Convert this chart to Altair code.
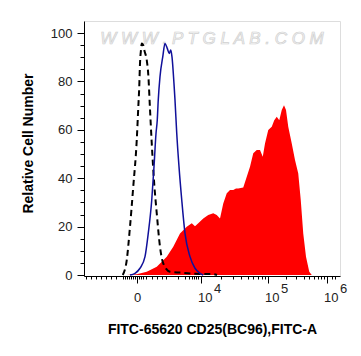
import altair as alt
import pandas as pd

# x values are display channels of a biexponential axis (0..1024)
ctrl_x = [155, 171, 184, 197, 211, 217, 221, 224, 228, 231, 237, 241, 251, 257, 264,
          271, 280, 291, 304, 317, 344, 384, 444, 516, 532]
ctrl_y = [0, 6.2, 20, 36.5, 55.8, 69, 77.8, 87.5, 93, 95.7, 95, 93, 88.8, 83, 68.5,
          54.4, 39, 25.5, 11.7, 4.8, 1.4, 1.0, 0.5, 0.4, 0]

blue_x = [184, 204, 224, 244, 257, 271, 280, 288, 293, 297, 304, 315, 324, 333, 341,
          347, 352, 360, 364, 371, 380, 391, 404, 424, 444, 464, 477]
blue_y = [0, 0.7, 2.8, 7.6, 17.2, 31, 44.8, 58.5, 64, 72.3, 82, 90.2, 95.7, 93.7, 91.6,
          93, 90.2, 79, 72.3, 58.5, 44.8, 31, 17.2, 7.6, 2.8, 0.7, 0]

red_x = [171, 211, 251, 291, 331, 357, 384, 411, 431, 444, 457, 477, 497, 517, 531,
         544, 557, 571, 584, 597, 608, 617, 637, 651, 664, 677, 691, 704, 715, 724,
         737, 751, 761, 771, 781, 791, 800, 808, 817, 831, 844, 857, 867, 877, 888,
         901, 911]
red_y = [0, 0.3, 1.4, 3.4, 7.6, 11.7, 17.2, 20, 21.4, 20.2, 21.4, 23.4, 24.8, 25.5, 24.8,
         23.4, 29.6, 33.8, 35.1, 35.1, 35.8, 35.8, 36.2, 40.6, 44.8, 50.3, 51.7, 51.7, 48.9, 54.4,
         59.9, 61.3, 64, 65.4, 64, 68.2, 70.2, 68.2, 61.3, 54.4, 47.5, 42, 31, 17.2, 7.6,
         1.4, 0]

x_major = [212, 468, 736, 972]
x_base = ["0", "10", "10", "10"]
x_sup = ["", "4", "5", "6"]
x_minor = [8, 28, 48, 68, 88, 108, 128, 156, 164, 172, 180, 188, 196, 204, 220, 228, 236,
           248, 272, 292, 312, 328, 376, 404, 420, 432, 440, 448, 456,
           549, 596, 629, 655, 676, 694, 710, 724,
           807, 849, 878, 901, 920, 936, 949, 961, 992, 1004]
y_major = [0, 20, 40, 60, 80, 100]
y_minor = [5, 10, 15, 25, 30, 35, 45, 50, 55, 65, 70, 75, 85, 90, 95]

W, H = 256, 255
FONT = "Liberation Sans"
xs = alt.Scale(domain=[0, 1024], nice=False, zero=False)
ys = alt.Scale(domain=[-0.4, 105], nice=False, zero=False)

red = pd.DataFrame({"x": red_x, "y": red_y})
ctrl = pd.DataFrame({"x": ctrl_x, "y": ctrl_y})
blue = pd.DataFrame({"x": blue_x, "y": blue_y})
labs = pd.DataFrame({"x": x_major, "base": x_base, "sup": x_sup})
wm = pd.DataFrame({"x": [512], "y": [97.5], "t": ["W W W . P T G L A B . C O M"]})

area = alt.Chart(red).mark_area(color="#ff0000", interpolate="linear").encode(
    x=alt.X("x:Q", scale=xs, axis=alt.Axis(
        values=x_major, labels=False, grid=False, tickSize=7, orient="bottom",
        title="FITC-65620 CD25(BC96),FITC-A", titleFont=FONT, titleFontSize=14,
        titleFontWeight="bold", titleColor="#000", titleY=57, titleBaseline="alphabetic",
        tickColor="#000", domainColor="#000")),
    y=alt.Y("y:Q", scale=ys, axis=alt.Axis(
        values=y_major, grid=False, tickSize=7, orient="left",
        labelFont=FONT, labelFontSize=13, labelColor="#222", labelPadding=5,
        title="Relative Cell Number", titleFont=FONT, titleFontSize=14,
        titleFontWeight="bold", titleColor="#000", titleX=-52, titleY=122,
        titleBaseline="alphabetic", tickColor="#000", domainColor="#000")),
)

dashed = alt.Chart(ctrl).mark_line(color="#000", strokeWidth=2, strokeDash=[6, 4],
                                   interpolate="monotone").encode(
    x=alt.X("x:Q", scale=xs, axis=alt.Axis(
        values=x_minor, labels=False, grid=False, tickSize=3, orient="bottom",
        domain=False, title=None, tickColor="#000")),
    y=alt.Y("y:Q", scale=ys, axis=alt.Axis(
        values=y_minor, labels=False, grid=False, tickSize=4, orient="left",
        domain=False, title=None, tickColor="#000")))

bline = alt.Chart(blue).mark_line(color="#10109a", strokeWidth=1.5,
                                  interpolate="monotone").encode(
    x=alt.X("x:Q", scale=xs, axis=None), y=alt.Y("y:Q", scale=ys, axis=None))

base_lab = alt.Chart(labs).mark_text(font=FONT, fontSize=13, color="#222", align="left",
                                     baseline="alphabetic", dx=-3).encode(
    x=alt.X("x:Q", scale=xs, axis=None), y=alt.value(281), text="base:N")

sup_lab = alt.Chart(labs).mark_text(font=FONT, fontSize=13, color="#222", align="left",
                                    baseline="alphabetic", dx=13).encode(
    x=alt.X("x:Q", scale=xs, axis=None), y=alt.value(272), text="sup:N")

water = alt.Chart(wm).mark_text(font=FONT, fontSize=17, fontStyle="italic", fill="#f6f6f6",
                                stroke="#d0d0d0", strokeWidth=0.7, baseline="middle").encode(
    x=alt.X("x:Q", scale=xs, axis=None), y=alt.Y("y:Q", scale=ys, axis=None), text="t:N")

chart = alt.layer(water, area, dashed, bline, base_lab, sup_lab).resolve_axis(
    x="independent", y="independent"
).properties(
    width=W, height=H, autosize="none",
    padding={"left": 76, "top": 13, "right": 13, "bottom": 70},
).configure_view(stroke="#000", strokeWidth=1).configure(background="white")

chart.save("out.html", embed_options={"renderer": "svg", "actions": False})
